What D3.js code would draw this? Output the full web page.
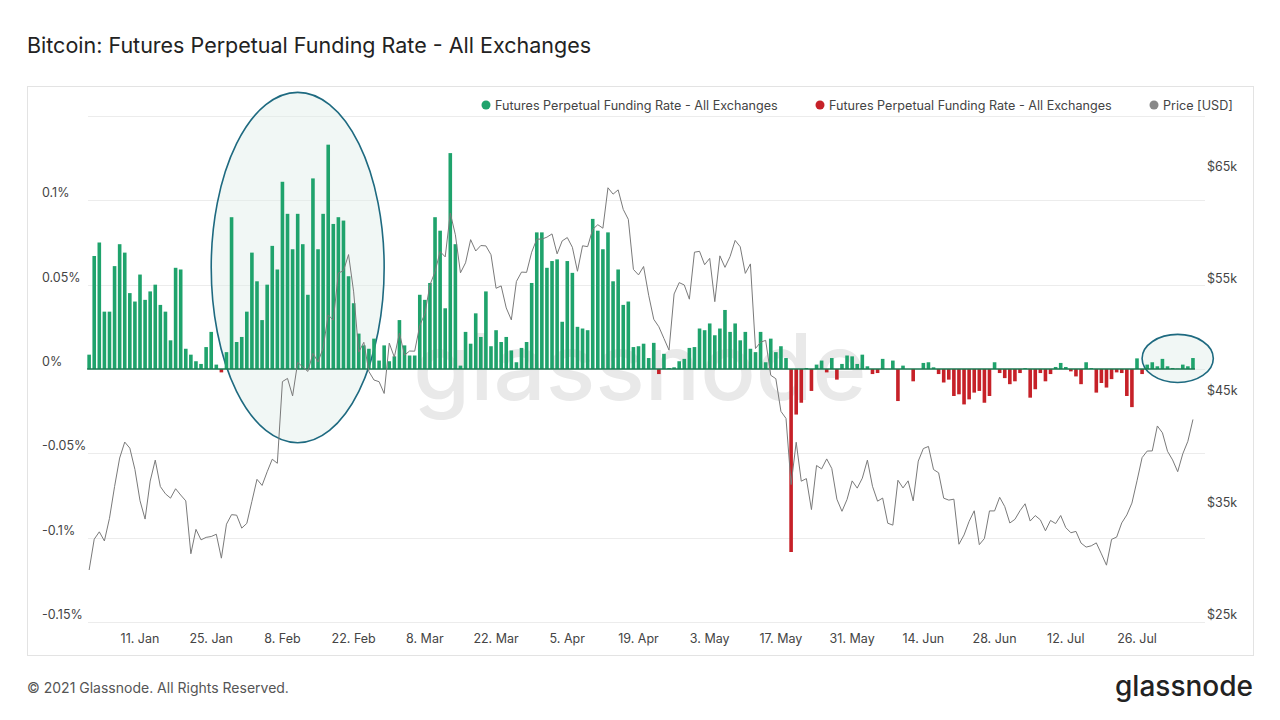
<!DOCTYPE html>
<html><head><meta charset="utf-8">
<script src="https://cdn.jsdelivr.net/npm/d3@7"></script>
<style>body{margin:0;background:#fff;font-family:Inter,"Noto Sans",sans-serif}</style>
</head><body><svg id="c" width="1280" height="720"></svg>
<script>
const startDate = "2021-01-01";
const fundJan=[0.0085,0.067,0.075,0.034,0.034,0.061,0.074,0.069,0.045,0.040,0.056,0.041,0.046,0.050,0.038,0.034,0.017,0.060,0.059,0.012,0.0085,0.0046,0.003,0.013,0.022,0.0026,-0.002,0.010,0.090,0.016,0.019];
const fundFeb=[0.034,0.069,0.052,0.029,0.050,0.073,0.059,0.111,0.092,0.071,0.092,0.074,0.044,0.113,0.071,0.092,0.133,0.086,0.090,0.088,0.055,0.039,0.021,0.014,0.012,0.018,0.005,0.014];
const fundMar=[0.0046,0.0075,0.029,0.014,0.008,0.008,0.044,0.041,0.051,0.090,0.082,0.036,0.128,0.074,0.002,0.022,0.015,0.033,0.019,0.046,0.0135,0.023,0.016,0.019,0.011,0.004,0.0125,0.016,0.051,0.081,0.081];
const fundApr=[0.060,0.064,0.065,0.028,0.064,0.057,0.025,0.024,0.023,0.089,0.082,0.071,0.081,0.052,0.059,0.038,0.040,0.013,0.0135,0.015,0.0065,0.0155,-0.003,0.009,0.0006,0.001,0.0046,0.006,0.0125,0.013];
const fundMay=[0.024,0.023,0.027,0.020,0.024,0.035,0.022,0.027,0.017,0.022,0.012,0.010,0.022,0.004,0.018,0.010,0.0135,0.0065,-0.1085,-0.027,-0.020,0.0006,-0.013,0.0026,0.005,-0.002,0.0065,-0.0063,0.003,0.008,0.0075];
const fundJun=[0.003,0.0085,0.0016,-0.003,-0.0024,0.006,0,0.005,-0.019,0.002,0,-0.0073,0,0.0036,0.004,0.001,-0.003,-0.008,-0.0063,-0.016,-0.015,-0.021,-0.018,-0.014,-0.013,-0.020,-0.016,0.004,-0.0024,-0.0054];
const fundJul=[-0.009,-0.0073,-0.0024,0.0005,-0.017,-0.012,-0.0024,-0.0073,-0.003,0.0012,0.0036,0.0012,-0.0014,-0.0044,-0.009,0.004,0.0005,-0.014,-0.0083,-0.011,-0.006,-0.002,-0.0024,-0.016,-0.0226,0.0063,-0.003,0.0026,0.004,0.0016,0.006];
const fundAug=[0.0016,0.0006,0.0002,0.0026,0.0016,0.0065];

const priceJan=[29374,32127,32782,31971,33992,36824,39371,40797,40254,38356,35566,33922,37316,39187,36825,36178,35792,36630,36069,35548,30826,33005,32067,32289,32366,32569,30432,33466,34316,34269,33114];
const priceFeb=[33538,35510,37472,36926,38144,39266,38903,46196,46481,44918,47909,47504,47105,48717,47945,49199,52149,51679,55888,56099,57539,54207,48824,49705,47093,46339,46188,45137];
const priceMar=[49631,48378,50538,48561,48927,48912,51206,52246,54824,56008,57805,57332,61243,59302,55907,56804,58870,57858,58346,58313,57523,54529,54738,52774,51704,55137,55973,55950,57750,58918,58918];
const priceApr=[59095,59384,57604,58759,59057,58192,56048,58323,58245,59793,60204,59893,63503,62935,63314,61572,60683,56216,55724,56473,53906,51763,51093,50050,49004,54021,55034,54824,53555,57750];
const priceMay=[57828,56631,57200,53333,57424,56397,57356,58804,58232,55860,56704,49150,49716,49880,46760,46456,43538,42909,37002,40782,37304,37536,34770,38705,38402,39294,38436,35697,34616,35678,37332];
const priceJun=[36685,37575,39188,36851,35521,35797,33552,33381,37389,36702,37334,35553,39098,40218,40407,38347,38053,35787,35615,35698,31676,32505,33723,34662,31637,32186,34650,34649,35867,35040];
const priceJul=[33572,33897,34668,35287,33746,34235,33855,32877,33798,33520,34240,33155,32702,32822,31780,31421,31533,31796,30817,29807,32110,32313,33581,34292,35350,37337,39406,39995,40008,42235,41626];
const priceAug=[39974,39201,38152,39747,40869,42816];

const leftTicks=[0.1,0.05,0,-0.05,-0.1,-0.15];
const leftTickLabels=["0.1%","0.05%","0%","-0.05%","-0.1%","-0.15%"];
const rightTicks=[65000,55000,45000,35000,25000];
const rightTickLabels=["$65k","$55k","$45k","$35k","$25k"];
const xTickDates=["2021-01-11","2021-01-25","2021-02-08","2021-02-22","2021-03-08","2021-03-22","2021-04-05","2021-04-19","2021-05-03","2021-05-17","2021-05-31","2021-06-14","2021-06-28","2021-07-12","2021-07-26"];
const xTickLabels=["11. Jan","25. Jan","8. Feb","22. Feb","8. Mar","22. Mar","5. Apr","19. Apr","3. May","17. May","31. May","14. Jun","28. Jun","12. Jul","26. Jul"];
const seriesNames=["Futures Perpetual Funding Rate - All Exchanges","Futures Perpetual Funding Rate - All Exchanges","Price [USD]"];
// highlight ellipses: [startDate, endDate, topValue%, bottomValue%]
const highlights=[["2021-01-25","2021-02-28",0.164,-0.0437],["2021-07-27","2021-08-10",0.0205,-0.008]];

const funding=[...fundJan,...fundFeb,...fundMar,...fundApr,...fundMay,...fundJun,...fundJul,...fundAug];
const price=[...priceJan,...priceFeb,...priceMar,...priceApr,...priceMay,...priceJun,...priceJul,...priceAug];
const parse=d3.utcParse("%Y-%m-%d");
const t0=parse(startDate);
const data=funding.map((v,i)=>({date:d3.utcDay.offset(t0,i),f:v,p:price[i]}));

const svg=d3.select("#c");
const x=d3.scaleUtc().domain([parse("2021-01-11"),parse("2021-07-26")]).range([140,1137]);
const y=d3.scaleLinear().domain([-0.15,0.15]).range([622,116]);
const yp=d3.scaleLinear().domain([25000,65000]).range([619,171]);

svg.append("text").attr("x",27).attr("y",53).attr("font-size",21.5).attr("fill","#222").attr("font-weight",400)
 .text("Bitcoin: Futures Perpetual Funding Rate - All Exchanges");
svg.append("rect").attr("x",27.5).attr("y",86.5).attr("width",1226).attr("height",569).attr("fill","none").attr("stroke","#e3e3e3");

// grid
svg.append("g").selectAll("line").data([0.15,...leftTicks]).join("line")
 .attr("x1",88).attr("x2",1205).attr("y1",d=>Math.round(y(d))+0.5).attr("y2",d=>Math.round(y(d))+0.5)
 .attr("stroke","#ececec");

// watermark
svg.append("text").attr("x",640).attr("y",400).attr("text-anchor","middle").attr("font-size",92)
 .attr("fill","#e9e9e9").attr("font-weight",500).text("glassnode");

// ellipses
svg.append("g").selectAll("ellipse").data(highlights).join("ellipse")
 .attr("cx",d=>(x(parse(d[0]))+x(parse(d[1])))/2).attr("rx",d=>(x(parse(d[1]))-x(parse(d[0])))/2)
 .attr("cy",d=>(y(d[2])+y(d[3]))/2).attr("ry",d=>(y(d[3])-y(d[2]))/2)
 .attr("fill","rgba(225,237,232,0.45)").attr("stroke","#1e6a80").attr("stroke-width",1.6);

// bars
const bw=3.6;
svg.append("g").selectAll("rect").data(data).join("rect")
 .attr("x",d=>x(d.date)-bw/2).attr("width",bw)
 .attr("y",d=>y(Math.max(0,d.f))).attr("height",d=>Math.abs(y(d.f)-y(0)))
 .attr("fill",d=>d.f>=0?"#1fa36c":"#c62128");
svg.append("line").attr("x1",x(data[0].date)-2).attr("x2",x(data[data.length-1].date)+2)
 .attr("y1",y(0)).attr("y2",y(0)).attr("stroke","#1b7a52").attr("stroke-width",1.5);

// price
svg.append("path").datum(data).attr("fill","none").attr("stroke","#7a7a7a").attr("stroke-width",1)
 .attr("d",d3.line().x(d=>x(d.date)).y(d=>yp(d.p)));

// axes
const ax=svg.append("g").attr("font-size",12.5).attr("fill","#444");
ax.selectAll(".l").data(leftTicks).join("text").attr("x",42).attr("y",(d)=>y(d)-3).text((d,i)=>leftTickLabels[i]);
ax.selectAll(".r").data(rightTicks).join("text").attr("x",1207).attr("y",d=>yp(d)).text((d,i)=>rightTickLabels[i]);
ax.selectAll(".x").data(xTickDates).join("text").attr("x",d=>x(parse(d))).attr("y",643).attr("text-anchor","middle").text((d,i)=>xTickLabels[i]);

// legend
const leg=[{x:486,c:"#1fa36c"},{x:820,c:"#c62128"},{x:1154,c:"#888"}];
const lg=svg.append("g").selectAll("g").data(leg).join("g").attr("transform",d=>`translate(${d.x},105)`);
lg.append("circle").attr("r",4.5).attr("fill",d=>d.c);
lg.append("text").attr("x",9).attr("y",4.5).attr("font-size",12.6).attr("fill","#444").text((d,i)=>seriesNames[i]);

svg.append("text").attr("x",27).attr("y",693).attr("font-size",14).attr("fill","#555").text("© 2021 Glassnode. All Rights Reserved.");
svg.append("text").attr("x",1253).attr("y",696).attr("text-anchor","end").attr("font-size",28).attr("fill","#222").attr("font-weight",500).text("glassnode");
</script></body></html>
